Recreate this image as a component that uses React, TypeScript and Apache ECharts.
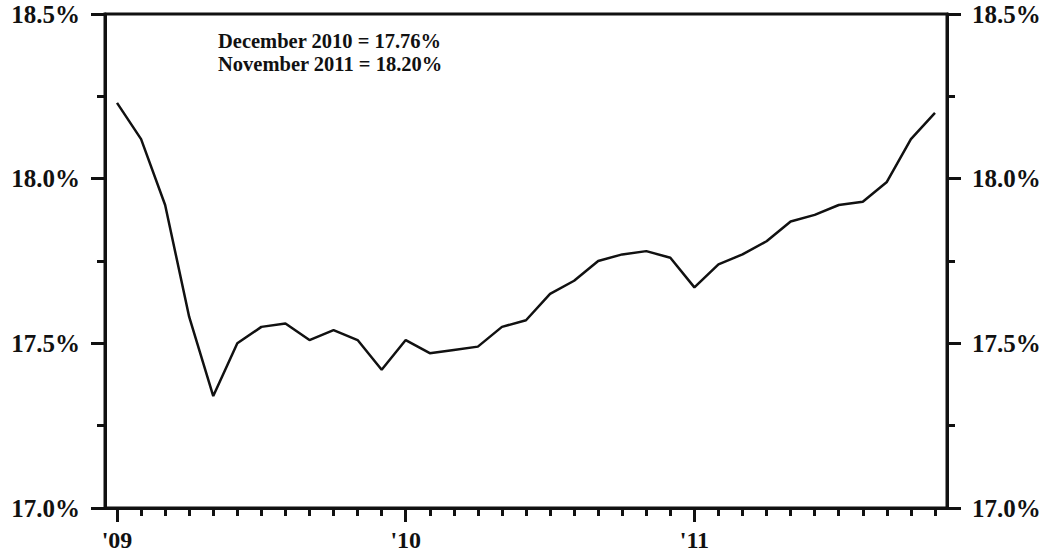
import React, { useEffect, useRef } from "react";
import * as echarts from "echarts";

const months: string[] = [
  "2009-01", "2009-02", "2009-03", "2009-04", "2009-05", "2009-06",
  "2009-07", "2009-08", "2009-09", "2009-10", "2009-11", "2009-12",
  "2010-01", "2010-02", "2010-03", "2010-04", "2010-05", "2010-06",
  "2010-07", "2010-08", "2010-09", "2010-10", "2010-11", "2010-12",
  "2011-01", "2011-02", "2011-03", "2011-04", "2011-05", "2011-06",
  "2011-07", "2011-08", "2011-09", "2011-10", "2011-11",
];

const rates: number[] = [
  18.23, 18.12, 17.92, 17.58, 17.34, 17.5, 17.55, 17.56, 17.51, 17.54, 17.51, 17.42,
  17.51, 17.47, 17.48, 17.49, 17.55, 17.57, 17.65, 17.69, 17.75, 17.77, 17.78, 17.76,
  17.67, 17.74, 17.77, 17.81, 17.87, 17.89, 17.92, 17.93, 17.99, 18.12, 18.2,
];

const yearTickLabels: Record<string, string> = {
  "2009": "'09",
  "2010": "'10",
  "2011": "'11",
};

const yMin = 17.0;
const yMax = 18.5;
const yStep = 0.5;

const annotationLines: { label: string; index: number }[] = [
  { label: "December 2010", index: 23 },
  { label: "November 2011", index: 34 },
];

const INK = "#111";
const FONT = "Liberation Serif";

export default function App() {
  const ref = useRef<HTMLDivElement>(null);

  useEffect(() => {
    if (!ref.current) return;
    const chart = echarts.init(ref.current, undefined, { renderer: "svg" });
    const isJan = (i: number) => months[i].endsWith("-01");

    const yAxisBase = (position: "left" | "right") => ({
      type: "value",
      position,
      min: yMin,
      max: yMax,
      interval: yStep,
      axisLine: { show: true, lineStyle: { color: INK, width: 3 } },
      axisTick: { show: true, inside: false, length: 14, lineStyle: { color: INK, width: 3 } },
      minorTick: { show: true, splitNumber: 2, length: 8, lineStyle: { color: INK, width: 3 } },
      splitLine: { show: false },
      minorSplitLine: { show: false },
      axisLabel: {
        show: true,
        margin: 25,
        color: INK,
        fontFamily: FONT,
        fontWeight: "bold",
        fontSize: 25,
        formatter: (v: number) => v.toFixed(1) + "%",
      },
    });

    chart.setOption({
      animation: false,
      backgroundColor: "#fff",
      grid: {
        left: 105,
        right: 99,
        top: 14,
        bottom: 46,
        show: true,
        borderColor: INK,
        borderWidth: 3,
        containLabel: false,
        outerBoundsMode: "none",
      },
      xAxis: [
        {
          type: "category",
          data: months,
          position: "bottom",
          boundaryGap: true,
          axisLine: { show: true, lineStyle: { color: INK, width: 3 } },
          axisTick: { show: true, alignWithLabel: true, interval: 0, length: 8, lineStyle: { color: INK, width: 3 } },
          axisLabel: { show: false },
          splitLine: { show: false },
        },
        {
          type: "category",
          data: months,
          position: "bottom",
          boundaryGap: true,
          axisLine: { show: false },
          axisTick: {
            show: true,
            alignWithLabel: true,
            interval: (i: number) => isJan(i),
            length: 14,
            lineStyle: { color: INK, width: 3 },
          },
          axisLabel: {
            show: true,
            interval: (i: number) => isJan(i),
            margin: 20,
            color: INK,
            fontFamily: FONT,
            fontWeight: "bold",
            fontSize: 24,
            formatter: (v: string) => yearTickLabels[v.slice(0, 4)] ?? "",
          },
          splitLine: { show: false },
        },
      ],
      yAxis: [yAxisBase("left"), yAxisBase("right")],
      series: [
        {
          type: "line",
          xAxisIndex: 0,
          yAxisIndex: 0,
          data: rates,
          symbol: "none",
          lineStyle: { color: INK, width: 2.5 },
        },
      ],
      graphic: annotationLines.map((a, k) => ({
        type: "text",
        left: 218,
        top: 30 + k * 23.5,
        style: {
          text: `${a.label} = ${rates[a.index].toFixed(2)}%`,
          fill: INK,
          fontFamily: FONT,
          fontWeight: "bold",
          fontSize: 20.5,
        },
      })),
    });

    return () => chart.dispose();
  }, []);

  return (
    <div
      ref={ref}
      style={{ position: "absolute", left: 0, top: 0, width: 1046, height: 554, background: "#fff" }}
    />
  );
}
